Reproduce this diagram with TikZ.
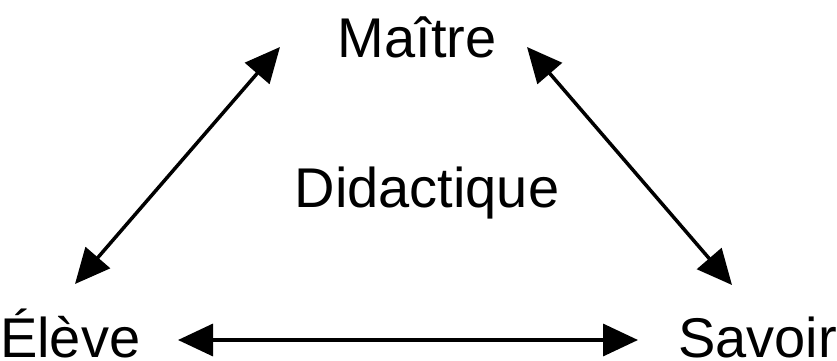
\documentclass[tikz,border=0pt]{standalone}
\usepackage{fontspec}
\setmainfont{Liberation Sans}
\usetikzlibrary{arrows.meta, positioning}
\tikzset{
    concept/.style = {
      inner sep=0, font=\fontsize{56pt}{60pt}\selectfont,
    },
    link/.style = {
      line width=3.5pt, black, arrows={Triangle[length=35pt, width=32pt]-Triangle[length=35pt, width=32pt]},
    },
}

\begin{document}
\begin{tikzpicture}[x=1pt, y=1pt]
    \useasboundingbox (0, 0) rectangle (837, 360);

    %% The three poles and the field between them
    \node [concept, anchor=base] (maitre) at (417, 303) {Maître};
    \node [concept, anchor=base west] (eleve) at (0, 3) {Élève};
    \node [concept, anchor=base east] (savoir) at (837, 3) {Savoir};
    \node [concept, anchor=base] (didactique) at (427, 153) {Didactique};

    %% Two-way relations along the sides of the triangle
    \draw [link] ([shift={(-137, 10)}] maitre.base) -- ([shift={(75, 73)}] eleve.base west);
    \draw [link] ([shift={(110, 10)}] maitre.base) -- ([shift={(-105, 72)}] savoir.base east);
    \draw [link] ([shift={(178, 17)}] eleve.base west) -- ([shift={(-199, 17)}] savoir.base east);
\end{tikzpicture}
\end{document}
